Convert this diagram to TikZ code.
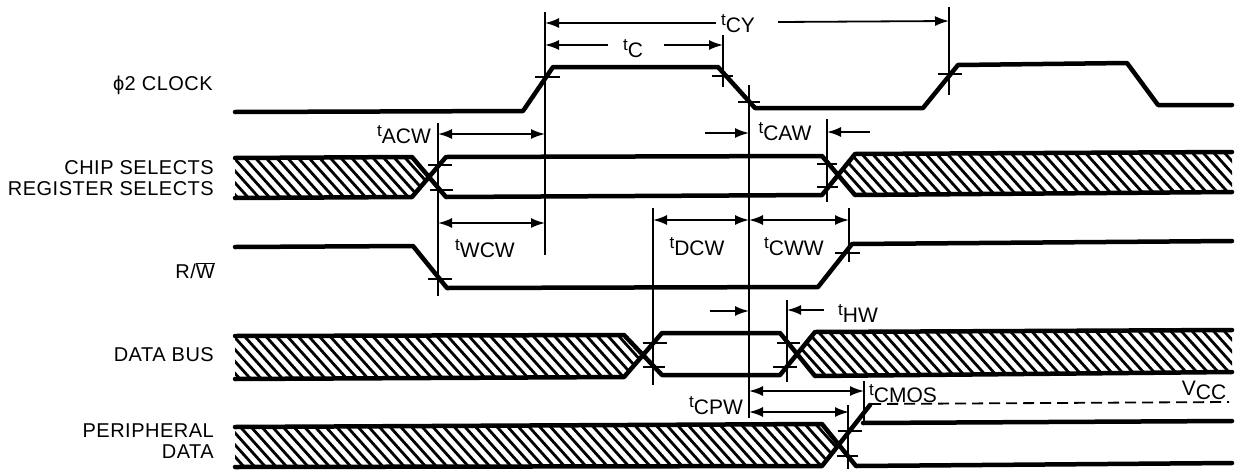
\documentclass[tikz,border=0pt]{standalone}
\usepackage{fontspec}
\setmainfont{Liberation Sans}
\newfontfamily\sigfont[LetterSpace=2.5]{Liberation Sans}
\usetikzlibrary{arrows.meta}
\newcommand{\tlab}[1]{\raisebox{7pt}{\fontsize{17}{17}\selectfont t}#1}
\newcommand{\hatchbox}[1]{\begin{scope}
 \clip #1;
 \foreach \hx in {-80,-69.3,...,1240} \draw [hatchline] (\hx,130)--++(310,345);
\end{scope}}
\tikzset{
 >={Latex[length=14pt,width=10pt]},
 sig/.style={line width=4.5pt,line join=round,line cap=round},
 edgeline/.style={line width=1.8pt},
 tick/.style={line width=1.8pt},
 dimline/.style={line width=1.8pt},
 hatchline/.style={line width=2.8pt},
 siglabel/.style={anchor=east,inner sep=0pt,font=\sigfont\fontsize{20}{20}\selectfont},
 timelabel/.style={inner sep=0pt,font=\fontsize{21}{21}\selectfont}
}
\begin{document}
\begin{tikzpicture}[x=1pt,y=-1pt]
\useasboundingbox (0,0) rectangle (1240,469);
%hatching
\hatchbox{(235,158)--(412,157)--(429,177)--(412,197)--(235,198)--cycle}
\hatchbox{(838,175)--(855,154)--(1232,152)--(1232,192)--(855,195)--cycle}
\hatchbox{(235,336)--(624,335)--(643,356)--(624,377)--(235,379)--cycle}
\hatchbox{(797,354)--(815,332)--(1232,330)--(1232,372)--(815,376)--cycle}
\hatchbox{(235,427)--(822,424)--(840,445)--(822,466)--(235,467)--cycle}
%clock
\draw [sig] (235,112)--(523,111)--(553,67)--(718,67)--(755,108)--(923,108)--(958,65)--(1127,63)--(1158,105)--(1232,105);
\draw [tick] (535,77)--(560,77);
\draw [tick] (712,76)--(733,76);
\draw [tick] (738,102)--(760,102);
\draw [tick] (938,74)--(962,74);
%chip selects
\draw [sig] (235,158)--(412,157)--(446,197)--(822,195)--(855,154)--(1232,152);
\draw [sig] (235,198)--(412,197)--(446,157)--(822,156)--(855,195)--(1232,192);
\draw [tick] (428,165)--(452,165);
\draw [tick] (430,190)--(453,190);
\draw [tick] (817,164)--(837,164);
\draw [tick] (817,187)--(838,187);
%read write
\draw [sig] (235,247)--(413,246)--(447,288)--(818,287)--(852,244)--(1232,241);
\draw [tick] (428,279)--(452,279);
\draw [tick] (835,253)--(860,253);
%data bus
\draw [sig] (235,336)--(624,335)--(662,375)--(780,375)--(815,332)--(1232,330);
\draw [sig] (235,379)--(624,377)--(662,333)--(780,333)--(815,376)--(1232,372);
\draw [tick] (643,343)--(667,343);
\draw [tick] (643,367)--(665,367);
\draw [tick] (777,343)--(800,343);
\draw [tick] (773,367)--(797,367);
%peripheral data
\draw [sig] (235,427)--(822,424)--(856,466)--(1232,463);
\draw [sig] (235,467)--(822,466)--(870,405);
\draw [sig] (863,423)--(1232,421);
\draw [dashed,dash pattern=on 11pt off 6pt,line width=1.8pt] (870,404)--(1229,402);
\draw [tick] (838,431)--(862,431);
\draw [tick] (837,456)--(858,456);
%edges
\draw [edgeline] (545,12)--(545,255);
\draw [edgeline] (723,35)--(723,87);
\draw [edgeline] (749,85)--(749,418);
\draw [edgeline] (949,7)--(949,95);
\draw [edgeline] (438,123)--(438,296);
\draw [edgeline] (827,119)--(827,202);
\draw [edgeline] (849,208)--(849,262);
\draw [edgeline] (653,208)--(653,385);
\draw [edgeline] (787,300)--(787,382);
\draw [edgeline] (864,381)--(864,423);
\draw [edgeline] (848,405)--(848,469);
%times
\draw [dimline,<-] (545,23)--(716,23);
\draw [dimline,->] (778,22)--(949,21);
\draw [dimline,<-] (545,45)--(608,45);
\draw [dimline,->] (664,45)--(723,45);
\draw [dimline,<->] (438,134)--(545,134);
\draw [dimline,->] (705,133)--(749,133);
\draw [dimline,<-] (827,132)--(870,132);
\draw [dimline,<->] (438,223)--(545,223);
\draw [dimline,<->] (653,220)--(749,220);
\draw [dimline,<->] (749,220)--(849,220);
\draw [dimline,->] (710,311)--(749,311);
\draw [dimline,<-] (787,310)--(824,310);
\draw [dimline,<->] (749,391)--(864,391);
\draw [dimline,<->] (749,412)--(849,412);
%labels
\node [siglabel] (clocklabel) at (213,85) {ϕ2 CLOCK};
\node [siglabel] (chiplabel) at (214,168) {CHIP SELECTS};
\node [siglabel] (reglabel) at (214,189) {REGISTER SELECTS};
\node [siglabel] (rwlabel) at (215,271) {R/$\overline{\mbox{W}}$};
\node [siglabel] (buslabel) at (214,355) {DATA BUS};
\node [siglabel] (perlabel) at (214,431) {PERIPHERAL};
\node [siglabel] (datalabel) at (214,452) {DATA};
\node [timelabel] (cylabel) at (738,24) {\tlab{CY}};
\node [timelabel] (clabel) at (633,49) {\tlab{C}};
\node [timelabel] (acwlabel) at (404,135) {\tlab{ACW}};
\node [timelabel] (cawlabel) at (785,132) {\tlab{CAW}};
\node [timelabel] (wcwlabel) at (485,249) {\tlab{WCW}};
\node [timelabel] (dcwlabel) at (697,247) {\tlab{DCW}};
\node [timelabel] (cwwlabel) at (794,247) {\tlab{CWW}};
\node [timelabel] (hwlabel) at (858,313) {\tlab{HW}};
\node [timelabel] (cpwlabel) at (716,406) {\tlab{CPW}};
\node [timelabel] (cmoslabel) at (903,394) {\tlab{CMOS}};
\node [timelabel] (vcclabel) at (1204,390) {\raisebox{4pt}{V}CC};
\end{tikzpicture}
\end{document}
